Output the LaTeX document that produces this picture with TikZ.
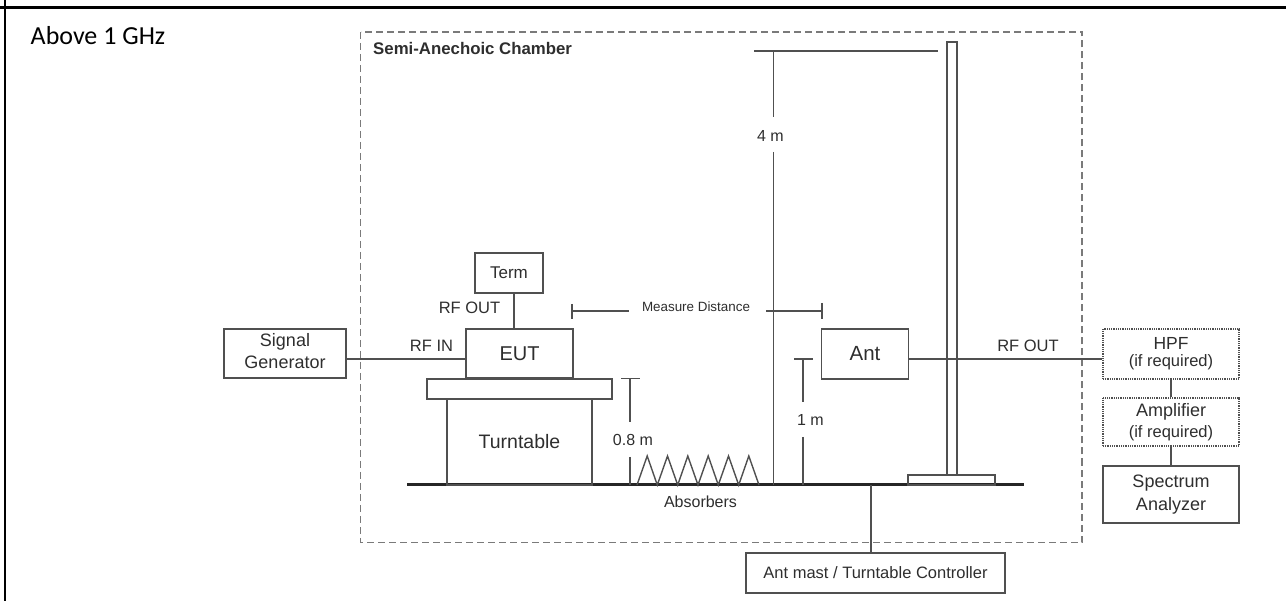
\documentclass[tikz,border=0pt]{standalone}
\usepackage{fontspec}
\setmainfont{Liberation Sans}
\newfontfamily\carl{Carlito}
\definecolor{ln}{HTML}{505050}
\definecolor{tx}{HTML}{2E2E2E}
\definecolor{dsh}{HTML}{7A7A7A}
\newcommand{\fs}[1]{\fontsize{#1}{#1}\selectfont}
\tikzset{
  box/.style={draw=ln, line width=1.4pt, inner sep=0pt, text=tx, align=center},
  dotbox/.style={box, dash pattern=on 1pt off 0.8pt},
  wire/.style={draw=ln, line width=1.4pt},
  lbl/.style={inner sep=0pt, text=tx},
}
\begin{document}
\begin{tikzpicture}[x=1pt,y=-1pt]
\useasboundingbox (0,0) rectangle (1286,601);
% frame
\draw[line width=2.5pt] (0,7.5) -- (1286,7.5);
\draw[line width=2.5pt] (5,0) -- (5,601);
\node[lbl, anchor=west, text=black] (title) at (30.5,36) {\carl\fs{26}Above 1 GHz};
% chamber
\draw[dsh, line width=1.4pt, dash pattern=on 7pt off 4pt] (360.5,32) rectangle (1082,542.5);
\node[lbl, anchor=west] (chlbl) at (373,48) {\bfseries\fs{16.8}Semi-Anechoic Chamber};
% floor
\coordinate (fl1) at (407,485);
\coordinate (fl2) at (1024,485);
\draw[line width=3pt, black!85] (fl1) -- (fl2);
% boxes
\node[box, minimum width=68pt, minimum height=40pt] (term) at (509,273) {\fs{17}Term};
\node[box, minimum width=107pt, minimum height=49pt] (eut) at (519.5,353.5) {\fs{20}EUT};
\node[box, minimum width=122pt, minimum height=49pt] (sg) at (285,353.5) {\fs{18}\begin{tabular}{@{}c@{}}Signal\\[4pt]Generator\end{tabular}};
\node[box, minimum width=185pt, minimum height=20pt] (plate) at (519.5,389) {};
\node[box, minimum width=145pt, minimum height=86pt] (tt) at (519.5,442) {\fs{19.5}Turntable};
\node[box, minimum width=86.5pt, minimum height=50pt] (ant) at (865,354) {\fs{20.5}Ant};
\node[dotbox, minimum width=136pt, minimum height=50pt] (hpf) at (1171,354) {\fs{17.5}HPF\\[5pt]\fs{16.5}(if required)};
\node[dotbox, minimum width=136pt, minimum height=48pt] (amp) at (1171,422) {\fs{18}Amplifier\\[4.5pt]\fs{16.5}(if required)};
\node[box, minimum width=136pt, minimum height=57pt] (sa) at (1171,494.5) {\fs{18}Spectrum\\[5pt]\fs{18}Analyzer};
\node[box, minimum width=259pt, minimum height=40pt] (ctrl) at (875.5,573) {\fs{16.5}Ant mast / Turntable Controller};
\node[box, minimum width=10pt, minimum height=433pt] (mast) at (952,258.5) {};
\node[box, minimum width=87pt, minimum height=10pt] (base) at (951.5,480) {};
% connectors
\coordinate (rfy) at (0,359);
\coordinate (tx) at (514,0);
\draw[wire] (sg.east |- rfy) -- (eut.west |- rfy);
\draw[wire] (term.south -| tx) -- (eut.north -| tx);
\draw[wire] (ant.east |- rfy) -- (hpf.west |- rfy);
\draw[wire] (hpf) -- (amp);
\draw[wire] (amp) -- (sa);
\coordinate (cf) at (871,485);
\draw[wire] (cf) -- (cf |- ctrl.north);
% labels
\node[lbl] (rfout1) at (469.5,308) {\fs{16.5}RF OUT};
\node[lbl] (rfin) at (431.5,346) {\fs{16.5}RF IN};
\node[lbl] (rfout2) at (1028,346) {\fs{16.5}RF OUT};
\node[lbl] (md) at (696,307) {\fs{13.4}Measure Distance};
\node[lbl] (m4) at (770.5,136) {\fs{16}4 m};
\node[lbl] (m08) at (633,440) {\fs{16}0.8 m};
\node[lbl] (m1) at (810.5,420) {\fs{16}1 m};
\node[lbl] (abs) at (700.5,502) {\fs{16}Absorbers};
% measure distance
\draw[wire] (572,304) -- (572,319);
\draw[wire] (572,311) -- (629,311);
\draw[wire] (766,311) -- (822,311);
\draw[wire] (822,303) -- (822,319);
% 4 m
\draw[wire] (754,51) -- (938,51);
\draw[wire] (773.5,51) -- (773.5,117);
\draw[wire] (773.5,152) -- (773.5,485);
% 0.8 m
\draw[wire] (621,378.5) -- (640,378.5);
\draw[wire] (630,378.5) -- (630,422);
\draw[wire] (630,457) -- (630,485);
% 1 m
\draw[wire] (794,359) -- (813,359);
\draw[wire] (803,359) -- (803,402);
\draw[wire] (803,437) -- (803,485);
% absorbers
\draw[wire, line join=miter] (637,485)
  -- (647.2,456) -- (657.3,485) -- (667.5,456) -- (677.7,485)
  -- (687.8,456) -- (698,485) -- (708.2,456) -- (718.3,485)
  -- (728.5,456) -- (738.7,485) -- (748.8,456) -- (759,485);
\end{tikzpicture}
\end{document}
